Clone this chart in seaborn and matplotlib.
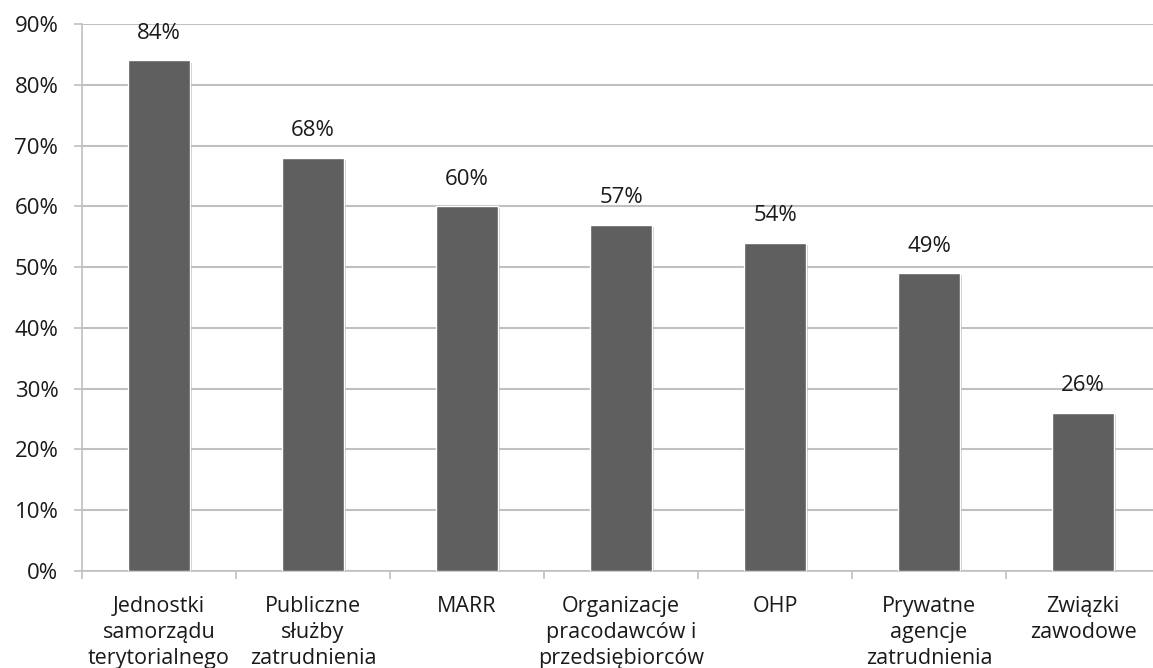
import matplotlib
matplotlib.use("Agg")
import matplotlib.pyplot as plt
import matplotlib.patheffects as pe
from matplotlib.ticker import PercentFormatter
import numpy as np
import pandas as pd
import seaborn as sns

categories = [
    "Jednostki\nsamorządu\nterytorialnego",
    "Publiczne\nsłużby\nzatrudnienia",
    "MARR",
    "Organizacje\npracodawców i\nprzedsiębiorców",
    "OHP",
    "Prywatne\nagencje\nzatrudnienia",
    "Związki\nzawodowe",
]
values = [84, 68, 60, 57, 54, 49, 26]
y_ticks = [0, 10, 20, 30, 40, 50, 60, 70, 80, 90]

sns.set_theme(style="white")
plt.rcParams["font.family"] = ["Open Sans", "DejaVu Sans"]

df = pd.DataFrame({"kategoria": categories, "udzial": values})

fig = plt.figure(figsize=(11.53, 6.68), dpi=100)
ax = fig.add_axes([0.0711, 0.1452, 0.935, 0.8189])

sns.barplot(data=df, x="kategoria", y="udzial", color="#5f5f5f",
            saturation=1, width=0.40, edgecolor="white", linewidth=1.0,
            ax=ax, zorder=3)

for patch in ax.patches:
    patch.set_path_effects([
        pe.SimplePatchShadow(offset=(1.5, -1.5), shadow_rgbFace="#9a9a9a", alpha=0.5),
        pe.Normal(),
    ])

for cont in ax.containers:
    ax.bar_label(cont, labels=[f"{v}%" for v in values], padding=12,
                 fontsize=16, color="#1a1a1a")

ax.set_xlim(-0.5, len(categories) - 0.5)
ax.set_ylim(0, 90)
ax.set_yticks(y_ticks)
ax.yaxis.set_major_formatter(PercentFormatter(decimals=0))
ax.grid(axis="y", color="#c0c0c0", linewidth=1.5, zorder=0)
ax.set_axisbelow(True)

ax.set_xticks(np.arange(-0.5, len(categories), 1), minor=True)
ax.tick_params(axis="x", which="major", length=0, pad=18, labelsize=15.5,
               labelcolor="#1a1a1a")
ax.tick_params(axis="x", which="minor", length=6, width=1.2, color="#c0c0c0",
               direction="out", bottom=True)
ax.tick_params(axis="y", length=6, width=1.2, color="#c0c0c0", direction="out",
               left=True, pad=11, labelsize=16, labelcolor="#1a1a1a")
for lbl in ax.get_xticklabels():
    lbl.set_linespacing(1.32)

ax.set_xlabel("")
ax.set_ylabel("")
for side in ["top", "right"]:
    ax.spines[side].set_visible(False)
for side in ["left", "bottom"]:
    ax.spines[side].set_color("#c0c0c0")
    ax.spines[side].set_linewidth(1.2)

fig.savefig("out.png", dpi=100)
